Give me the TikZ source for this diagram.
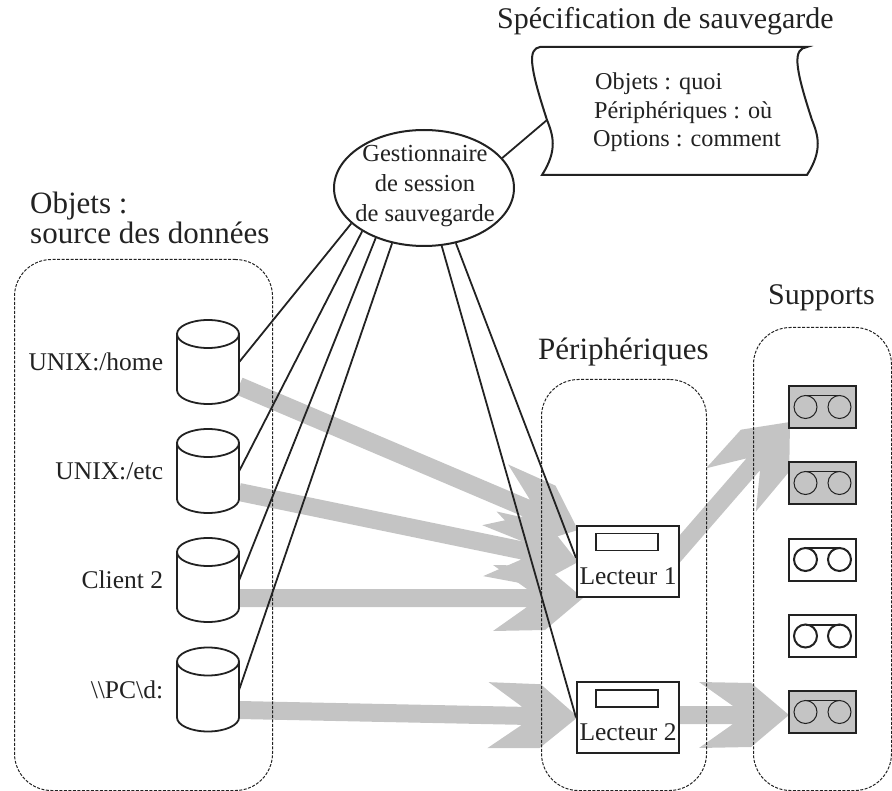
\documentclass[tikz,border=0pt]{standalone}
\usepackage{fontspec}
\setmainfont{Liberation Serif}
\usetikzlibrary{calc,positioning,shapes.geometric}

\definecolor{gris}{HTML}{C4C4C4}
\definecolor{encre}{HTML}{222222}

\tikzset{
	texte/.style = {font=\fontsize{25.5}{28.3}\selectfont, text=encre, inner sep=0},
	titre/.style = {font=\fontsize{31}{30}\selectfont, text=encre, inner sep=0, align=left},
	groupe/.style = {draw=encre, line width=1pt, dash pattern=on 3pt off 1.5pt, rounded corners=37pt, anchor=north west, inner sep=0},
	disque/.style = {minimum width=62pt, minimum height=84pt, inner sep=0},
	trait/.style = {draw=encre, line width=1.8pt},
	lecteur/.style = {draw=encre, line width=2pt, fill=white, minimum width=102pt, minimum height=71pt, inner sep=0},
	support/.style = {draw=encre, line width=2pt, minimum width=67pt, minimum height=42pt, inner sep=0},
}

% grosse fleche grise, de #1 vers #2
\newcommand{\fleche}[2]{
	\fill[gris] ($(#1)!9pt!-90:(#2)$) -- ($(#2)!56pt!(#1)!9pt!90:(#1)$) -- ($(#2)!90pt!(#1)!33pt!90:(#1)$) -- ($(#2)!38pt!(#1)!32pt!90:(#1)$)
	-- (#2) -- ($(#2)!38pt!(#1)!32pt!-90:(#1)$) -- ($(#2)!90pt!(#1)!33pt!-90:(#1)$) -- ($(#2)!56pt!(#1)!9pt!-90:(#1)$) -- ($(#1)!9pt!90:(#2)$) -- cycle;
}

\begin{document}
\begin{tikzpicture}[x=1pt, y=-1pt]
	\useasboundingbox (0,0) rectangle (892,791);

	\coordinate (q1) at (239,386);
	\coordinate (q2) at (239,492);
	\coordinate (q3) at (239,598);
	\coordinate (q4) at (239,710);
	\coordinate (q5) at (664,567);
	\coordinate (q6) at (675,715);
	\coordinate (p1) at (578,530);
	\coordinate (p2) at (578,562);
	\coordinate (p3) at (583,598);
	\coordinate (p4) at (578,717);
	\coordinate (p5) at (790,422);
	\coordinate (p6) at (789,715);

	\fleche{q1}{p1}
	\fleche{q2}{p2}
	\fleche{q3}{p3}
	\fleche{q4}{p4}
	\fleche{q5}{p5}
	\fleche{q6}{p6}

	\node[groupe, minimum width=258pt, minimum height=531pt] (objets) at (14,259) {};
	\node[groupe, minimum width=165pt, minimum height=411pt] (peripheriques) at (541,379) {};
	\node[groupe, minimum width=138pt, minimum height=463pt] (supports) at (753,327) {};

	\node[titre, anchor=west] (titreobjets) at (30,218) {Objets :\\source des donn\'ees};
	\node[titre, anchor=west, font=\fontsize{30}{30}\selectfont] (titrespec) at (497,21) {Sp\'ecification de sauvegarde};
	\node[titre, anchor=west] (titreperiph) at (538,352) {P\'eriph\'eriques};
	\node[titre, anchor=west, font=\fontsize{30}{30}\selectfont] (titresupports) at (768,298) {Supports};

	\draw[draw=encre, line width=2pt, fill=white] (540,47) -- (807,47)
		.. controls (793,49) and (794,65) .. (812,120) .. controls (818,135) and (823,150) .. (807,175)
		-- (542,175) .. controls (558,150) and (553,135) .. (547,120) .. controls (529,65) and (528,49) .. (540,47) -- cycle;
	\coordinate (spec) at (547,120);
	\node[texte, anchor=north west, align=left, font=\fontsize{24.2}{28.3}\selectfont] (specobjets) at (593,73) {\hspace{2pt}Objets : quoi\\\hspace{1pt}Périphériques : où\\Options : comment};

	\node[draw=encre, line width=2pt, fill=white, ellipse, minimum width=180pt, minimum height=116pt, inner sep=0] (gestion) at (424,188) {};
	\node[texte, align=center, font=\fontsize{24.5}{30}\selectfont] (gestiontexte) at (425,186) {Gestionnaire\\de session\\de sauvegarde};

	\foreach \i/\y/\nom in {1/362/{UNIX:/home}, 2/471/{UNIX:/etc}, 3/580/{Client 2}, 4/689.5/{\textbackslash\textbackslash PC\textbackslash d:}}{
		\node[disque] (d\i) at (208,\y) {};
		\draw[trait, fill=white] ($(d\i.center)+(-31,-28)$) -- ($(d\i.center)+(-31,28)$) arc[start angle=180, end angle=0, x radius=31, y radius=14] -- ($(d\i.center)+(31,-28)$);
		\draw[trait, fill=white] ($(d\i.center)+(0,-28)$) ellipse (31 and 14);
		\node[texte, left=13.5pt of d\i] (n\i) {\nom};
	}

	\foreach \i/\y in {1/561, 2/717.5}{
		\node[lecteur] (l\i) at (628,\y) {};
		\draw[trait] ($(l\i.center)+(-32,-27.5)$) rectangle ($(l\i.center)+(30,-10.5)$);
		\node[texte] (t\i) at ($(l\i.center)+(0,15)$) {Lecteur \i};
	}

	\foreach \i/\y/\fond/\ep in {1/407/gris/1, 2/483/gris/1, 3/559.5/white/2, 4/636/white/2, 5/712/gris/1}{
		\node[support, fill=\fond] (s\i) at (822.5,\y) {};
		\draw[draw=encre, line width=\ep pt] ($(s\i.center)+(-17,0)$) circle (11.5);
		\draw[draw=encre, line width=\ep pt] ($(s\i.center)+(17,0)$) circle (11.5);
		\draw[draw=encre, line width=\ep pt] ($(s\i.center)+(-17,-11.5)$) -- ($(s\i.center)+(17,-11.5)$);
	}

	\draw[trait] (gestion.21) -- (spec);
	\draw[trait] (gestion.206) -- (d1.east);
	\draw[trait] (gestion.215) -- (d2.east);
	\draw[trait] (gestion.226) -- (d3.east);
	\draw[trait] (gestion.240) -- (d4.east);
	\draw[trait] (gestion.287) -- (l2.west);
	\draw[trait] (gestion.300) -- ($(l1.west)+(0,-3)$);
\end{tikzpicture}
\end{document}
